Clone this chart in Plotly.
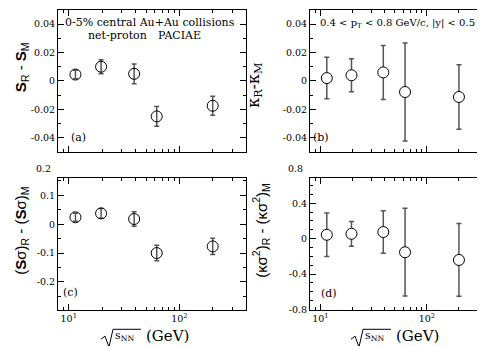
import plotly.graph_objects as go

# sqrt(s_NN) energies (GeV)
energy = [11.5, 19.6, 39, 62.4, 200]

# (a) S_R - S_M
s_diff = [0.0045, 0.010, 0.005, -0.025, -0.0175]
s_err = [0.003, 0.005, 0.007, 0.007, 0.0067]

# (b) kappa_R - kappa_M
k_diff = [0.002, 0.004, 0.006, -0.0078, -0.0113]
k_err = [0.0146, 0.0117, 0.019, 0.0345, 0.0227]

# (c) (S sigma)_R - (S sigma)_M
ss_diff = [0.024, 0.0375, 0.018, -0.100, -0.077]
ss_err = [0.014, 0.017, 0.025, 0.027, 0.028]

# (d) (kappa sigma^2)_R - (kappa sigma^2)_M
ks_diff = [0.044, 0.055, 0.075, -0.153, -0.24]
ks_err = [0.245, 0.14, 0.24, 0.495, 0.41]

serif = "DejaVu Serif"
sans = "Liberation Sans"

fig = go.Figure()

def add_panel(y, err, xa, ya, filled):
    fig.add_trace(go.Scatter(
        x=energy, y=y, mode="markers", xaxis=xa, yaxis=ya, showlegend=False,
        marker=dict(symbol="circle" if filled else "circle-open", size=11,
                    color="white" if filled else "black",
                    line=dict(color="black", width=1)),
        error_y=dict(type="data", array=err, color="#555555", thickness=1.5, width=2.5),
    ))

add_panel(s_diff, s_err, "x", "y", False)
add_panel(k_diff, k_err, "x2", "y2", True)
add_panel(ss_diff, ss_err, "x3", "y3", False)
add_panel(ks_diff, ks_err, "x4", "y4", True)

xl = [50 / 485, 238 / 485]
xr = [302 / 485, 483 / 485]
yt = [1 - 146 / 346, 1 - 2 / 346]
yb = [1 - 306 / 346, 1 - 172 / 346]

tfont = dict(family=serif, size=9.5, color="black")
common = dict(showline=True, linecolor="black", linewidth=1, mirror="allticks",
              ticks="inside", ticklen=6, tickcolor="black", showgrid=False,
              zeroline=False, tickfont=tfont)

xcommon = dict(common, type="log", range=[0.903, 2.602],
               tickvals=[10, 100], ticktext=["10<sup>1</sup>", "10<sup>2</sup>"],
               minor=dict(ticks="inside", ticklen=3, tickcolor="black",
                          tickvals=[8, 9, 20, 30, 40, 50, 60, 70, 80, 90, 200, 300, 400]))

def yax(dom, anc, rng, vals, mdt):
    return dict(common, domain=dom, anchor=anc, range=rng, tickvals=vals,
                ticktext=["0" if v == 0 else ("%g" % v) for v in vals],
                minor=dict(ticks="inside", ticklen=3, dtick=mdt, tickcolor="black"))

fig.update_layout(
    width=485, height=346, margin=dict(l=0, r=0, t=0, b=0),
    plot_bgcolor="white", paper_bgcolor="white",
    font=dict(family=serif),
    xaxis=dict(xcommon, domain=xl, anchor="y", showticklabels=False),
    xaxis2=dict(xcommon, domain=xr, anchor="y2", showticklabels=False),
    xaxis3=dict(xcommon, domain=xl, anchor="y3"),
    xaxis4=dict(xcommon, domain=xr, anchor="y4"),
    yaxis=yax(yt, "x", [-0.05, 0.05], [-0.04, -0.02, 0, 0.02, 0.04], 0.01),
    yaxis2=yax(yt, "x2", [-0.05, 0.05], [-0.04, -0.02, 0, 0.02, 0.04], 0.01),
    yaxis3=yax(yb, "x3", [-0.296, 0.162], [-0.2, -0.1, 0, 0.1], 0.05),
    yaxis4=yax(yb, "x4", [-0.8, 0.69], [-0.8, -0.4, 0, 0.4], 0.1),
)

def note(text, x, y, size=11, angle=0, family=serif, xanchor="center"):
    fig.add_annotation(text=text, x=x / 485, y=1 - y / 346, xref="paper", yref="paper",
                       showarrow=False, textangle=angle, xanchor=xanchor, yanchor="middle",
                       borderpad=0, font=dict(family=family, size=size, color="black"))

note("0-5% central Au+Au collisions", 56, 15, xanchor="left")
note("net-proton", 79, 28, xanchor="left")
note("PACIAE", 149, 28, xanchor="left")
note("0.4 &lt; p<sub>T</sub> &lt; 0.8 GeV/c, |y| &lt; 0.5", 311, 16, size=10, xanchor="left")
note("(a)", 62, 131, xanchor="left")
note("(b)", 304, 131, xanchor="left")
note("(c)", 54, 289, xanchor="left")
note("(d)", 312, 290, xanchor="left")
note("0.2", 44, 163, size=9.5, xanchor="right")
note("0.8", 296, 163, size=9.5, xanchor="right")

note("<b>S</b><sub>R</sub> - <b>S</b><sub>M</sub>", 13, 60, size=15, angle=-90, family=sans)
note("κ<sub>R</sub>-κ<sub>M</sub>", 247, 78, size=16, angle=-90)
note("(<b>S</b>σ)<sub>R</sub> - (<b>S</b>σ)<sub>M</sub>", 14, 226, size=15, angle=-90, family=sans)
note("(κσ<sup>2</sup>)<sub>R</sub> - (κσ<sup>2</sup>)<sub>M</sub>", 253, 226, size=15, angle=-90, family=sans)

# x-axis titles: radical sign drawn as a path, then s_NN and (GeV)
for x0 in [93, 343]:
    px = [x0, x0 + 4, x0 + 8, x0 + 12, x0 + 40]
    py = [336, 333, 344, 326, 326]
    path = "M " + " L ".join("%.4f,%.4f" % (a / 485, 1 - b / 346) for a, b in zip(px, py))
    fig.add_shape(type="path", xref="paper", yref="paper", path=path,
                  line=dict(color="black", width=1))
    note("s<sub>NN</sub>", x0 + 13, 333, size=11, xanchor="left")
    note("(GeV)", x0 + 44, 333, size=15, xanchor="left")

fig.write_html("out.html")
